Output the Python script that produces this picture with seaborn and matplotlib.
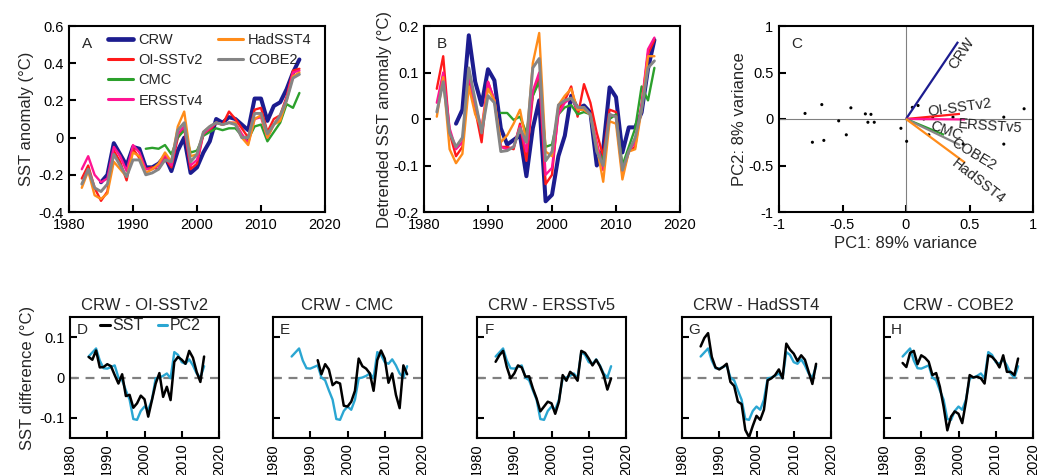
import numpy as np
import pandas as pd
import matplotlib
matplotlib.use("Agg")
import matplotlib.pyplot as plt
import seaborn as sns
from matplotlib.ticker import FuncFormatter, MultipleLocator
from matplotlib.lines import Line2D

# ---------------- data ----------------
years_full = list(range(1982, 2017))
years_crw = list(range(1985, 2017))
years_cmc = list(range(1992, 2017))

# Panel A: SST anomaly
crw_a = [-0.24, -0.20, -0.03, -0.09, -0.15, -0.05, -0.06, -0.16, -0.16, -0.14, -0.10, -0.18, -0.07, 0.00,
         -0.19, -0.16, -0.08, -0.02, 0.10, 0.08, 0.11, 0.10, 0.07, 0.04, 0.21, 0.21, 0.09, 0.17, 0.19, 0.26,
         0.35, 0.42]
oi_a = [-0.22, -0.15, -0.27, -0.34, -0.29, -0.07, -0.13, -0.23, -0.06, -0.11,
        -0.17, -0.16, -0.17, -0.11, -0.16, 0.00, 0.05, -0.17, -0.14, 0.02,
        0.04, 0.08, 0.07, 0.14, 0.10, 0.05, 0.00, 0.15, 0.16, 0.03,
        0.10, 0.12, 0.22, 0.36, 0.37]
cmc_a = [-0.06, -0.055, -0.06, -0.04, -0.09, 0.00, 0.04, -0.08, -0.07, 0.01,
         0.03, 0.05, 0.04, 0.05, 0.05, 0.01, -0.01, 0.06, 0.07, -0.02,
         0.03, 0.08, 0.18, 0.16, 0.24]
ers_a = [-0.17, -0.10, -0.20, -0.24, -0.22, -0.05, -0.10, -0.18, -0.04, -0.08,
         -0.17, -0.17, -0.15, -0.09, -0.15, 0.02, 0.06, -0.15, -0.12, 0.02,
         0.05, 0.08, 0.07, 0.08, 0.08, 0.02, -0.03, 0.10, 0.11, 0.00,
         0.07, 0.11, 0.21, 0.35, 0.36]
had_a = [-0.27, -0.18, -0.31, -0.33, -0.30, -0.13, -0.17, -0.21, -0.08, -0.10,
         -0.19, -0.17, -0.14, -0.08, -0.13, 0.06, 0.14, -0.10, -0.09, 0.03,
         0.06, 0.08, 0.07, 0.08, 0.08, 0.00, -0.04, 0.10, 0.12, 0.00,
         0.07, 0.09, 0.20, 0.33, 0.35]
cobe_a = [-0.25, -0.17, -0.27, -0.29, -0.25, -0.09, -0.15, -0.21, -0.12, -0.12,
          -0.20, -0.19, -0.17, -0.12, -0.13, 0.04, 0.08, -0.13, -0.09, 0.03,
          0.06, 0.08, 0.07, 0.08, 0.07, 0.00, 0.00, 0.13, 0.13, 0.02,
          0.07, 0.12, 0.20, 0.32, 0.34]

# Panel B: detrended SST anomaly
crw_b = [-0.01, 0.02, 0.18, 0.08, 0.03, 0.107, 0.083, -0.02, -0.055, -0.045, -0.035, -0.123, -0.02, 0.04,
         -0.177, -0.163, -0.08, -0.036, 0.05, 0.022, 0.029, 0.014, -0.10, -0.065, 0.068, 0.047, -0.072,
         -0.018, -0.018, 0.014, 0.108, 0.17]
oi_b = [0.065, 0.135, -0.03, -0.08, -0.06, 0.09, 0.02, -0.05, 0.08, 0.04,
        -0.06, -0.06, -0.065, -0.01, -0.09, 0.05, 0.09, -0.14, -0.12, 0.02,
        0.04, 0.07, 0.005, 0.075, 0.035, -0.03, -0.08, 0.02, 0.015, -0.11,
        -0.07, -0.06, 0.03, 0.14, 0.17]
cmc_b = [0.013, 0.013, -0.002, 0.005, -0.03, 0.05, 0.08, -0.06, -0.055, 0.01,
         0.025, 0.03, 0.01, 0.015, 0.01, -0.06, -0.09, 0.0, 0.01, -0.10,
         -0.06, -0.02, 0.07, 0.04, 0.11]
ers_b = [0.035, 0.10, -0.02, -0.065, -0.05, 0.095, 0.03, -0.02, 0.08, 0.04,
         -0.06, -0.065, -0.06, -0.015, -0.07, 0.06, 0.10, -0.12, -0.105, 0.01,
         0.035, 0.045, 0.02, 0.02, 0.01, -0.05, -0.11, 0.01, 0.005, -0.12,
         -0.07, -0.05, 0.03, 0.15, 0.175]
had_b = [0.005, 0.09, -0.065, -0.095, -0.075, 0.07, 0.01, -0.02, 0.065, 0.04,
         -0.05, -0.035, -0.01, 0.02, -0.05, 0.12, 0.185, -0.07, -0.08, 0.03,
         0.05, 0.065, 0.02, 0.02, 0.01, -0.06, -0.135, -0.005, -0.01, -0.13,
         -0.07, -0.065, 0.02, 0.135, 0.135]
cobe_b = [0.015, 0.08, -0.03, -0.06, -0.04, 0.11, 0.04, -0.03, 0.05, 0.035,
          -0.07, -0.068, -0.06, -0.02, -0.05, 0.11, 0.13, -0.09, -0.07, 0.03,
          0.04, 0.045, 0.025, 0.025, 0.01, -0.07, -0.10, 0.01, 0.005, -0.11,
          -0.07, -0.04, 0.02, 0.11, 0.125]

# Panel C: PCA biplot
pc_names = ["CRW", "OI-SSTv2", "ERSSTv5", "CMC", "COBE2", "HadSST4"]
load_pc1 = [0.41, 0.425, 0.465, 0.30, 0.425, 0.465]
load_pc2 = [0.83, 0.055, -0.005, -0.17, -0.28, -0.47]
score_pc1 = [-0.795, -0.737, -0.663, -0.647, -0.53, -0.47, -0.434, -0.32, -0.30, -0.276, -0.25, -0.04,
             0.005, 0.05, 0.095, 0.14, 0.18, 0.21, 0.37, 0.45, 0.77, 0.77, 0.93]
score_pc2 = [0.06, -0.25, 0.155, -0.23, -0.02, -0.17, 0.12, 0.055, -0.035, 0.05, -0.035, -0.10,
             -0.24, 0.125, 0.145, 0.0, -0.17, 0.02, 0.02, -0.27, 0.02, -0.27, 0.11]

# Panels D-H: CRW minus other products
diff_titles = ["CRW - OI-SSTv2", "CRW - CMC", "CRW - ERSSTv5", "CRW - HadSST4", "CRW - COBE2"]
diff_letters = ["D", "E", "F", "G", "H"]
pc2_diff = [0.052, 0.062, 0.072, 0.042, 0.023, 0.022, 0.026, 0.030, 0.000, -0.007, -0.032, -0.055,
            -0.103, -0.105, -0.083, -0.072, -0.080, -0.055, -0.002, 0.000, 0.004, 0.010, -0.002,
            0.063, 0.056, 0.038, 0.034, 0.045, 0.030, 0.010, 0.000, 0.028]
sst_d = [0.051, 0.044, 0.067, 0.025, 0.026, 0.033, 0.028, 0.006, -0.015, 0.008, -0.046, -0.043, -0.075,
         -0.064, -0.045, -0.054, -0.097, -0.056, -0.015, 0.011, -0.048, -0.023, -0.056, 0.039, 0.051,
         0.044, 0.034, 0.066, 0.049, 0.014, -0.011, 0.052]
sst_e = [0.043, 0.008, 0.033, 0.020, -0.019, -0.011, -0.015, -0.070, -0.072, -0.060, -0.033, 0.047,
         0.028, 0.022, 0.010, -0.033, 0.043, 0.067, 0.047, -0.013, 0.010, -0.043, -0.076, 0.030, 0.008]
sst_f = [0.039, 0.055, 0.066, 0.026, -0.002, 0.010, 0.030, 0.025, 0.002, 0.003, -0.027, -0.052, -0.084,
         -0.072, -0.060, -0.064, -0.090, -0.060, 0.006, -0.008, 0.014, 0.006, -0.008, 0.066, 0.061,
         0.047, 0.030, 0.044, 0.028, 0.006, -0.030, -0.002]
sst_g = [0.077, 0.098, 0.110, 0.051, 0.025, 0.020, 0.026, 0.034, -0.011, -0.021, -0.060, -0.066, -0.130,
         -0.148, -0.120, -0.095, -0.105, -0.080, -0.007, -0.002, 0.006, 0.020, -0.002, 0.084, 0.069,
         0.059, 0.041, 0.055, 0.044, 0.014, -0.016, 0.034]
sst_h = [0.036, 0.026, 0.061, 0.066, 0.033, 0.055, 0.049, 0.039, 0.006, 0.011, -0.023, -0.072, -0.131,
         -0.097, -0.084, -0.090, -0.113, -0.060, 0.006, 0.000, 0.002, -0.002, -0.015, 0.055, 0.051,
         0.041, 0.025, 0.055, 0.014, 0.014, 0.006, 0.047]

# ---------------- style ----------------
sns.set_style("ticks")
plt.rcParams['font.family'] = ['Liberation Sans', 'DejaVu Sans']
plt.rcParams['axes.unicode_minus'] = False

C_CRW = "#1c1c8f"
C_OI = "#ff1a1a"
C_CMC = "#2ca02c"
C_ERS = "#ff1493"
C_HAD = "#ff8c1a"
C_COBE = "#858585"
C_PC2 = "#2aa6d2"
pc_colors = [C_CRW, C_OI, C_ERS, C_CMC, C_COBE, C_HAD]

TICK_FS = 10.5
LABEL_FS = 12
LETTER_FS = 11

W, H = 1052, 475
fig = plt.figure(figsize=(W / 100, H / 100), dpi=100)


def rect(l, r, t, b):
    return [l / W, 1 - b / H, (r - l) / W, (b - t) / H]


def fmt(v, pos=None):
    if abs(v) < 1e-9:
        return "0"
    return f"{v:g}"


def style(ax, ls=TICK_FS):
    for sp in ax.spines.values():
        sp.set_visible(True)
        sp.set_linewidth(1.5)
        sp.set_color("black")
    ax.tick_params(direction="in", length=5, width=1.5, labelsize=ls, pad=4, colors="black")
    ax.yaxis.set_major_formatter(FuncFormatter(fmt))
    ax.xaxis.set_major_formatter(FuncFormatter(fmt))
    ax.grid(False)


def line(ax, x, y, color, lw, z=2):
    df = pd.DataFrame({"year": x, "val": y})
    sns.lineplot(data=df, x="year", y="val", ax=ax, color=color, lw=lw, zorder=z, legend=False)


# ---------------- Panel A ----------------
axA = fig.add_axes(rect(69, 325, 26, 212))
seriesA = [("CRW", years_crw, crw_a, C_CRW, 2.9), ("OI-SSTv2", years_full, oi_a, C_OI, 1.7),
           ("CMC", years_cmc, cmc_a, C_CMC, 1.7), ("ERSSTv4", years_full, ers_a, C_ERS, 1.7),
           ("HadSST4", years_full, had_a, C_HAD, 1.7), ("COBE2", years_full, cobe_a, C_COBE, 2.1)]
for i, (n, x, y, c, lw) in enumerate(seriesA):
    line(axA, x, y, c, lw, z=2 + i)
axA.set_xlim(1980, 2020)
axA.set_ylim(-0.4, 0.6)
axA.xaxis.set_major_locator(MultipleLocator(10))
axA.yaxis.set_major_locator(MultipleLocator(0.2))
style(axA)
axA.set_xlabel("")
axA.set_ylabel("SST anomaly (°C)", fontsize=LABEL_FS, labelpad=3)
axA.text(0.07, 0.905, "A", transform=axA.transAxes, fontsize=LETTER_FS, ha="center", va="center")
handles = [Line2D([], [], color=c, lw=(3.4 if n == "CRW" else 2.2)) for n, x, y, c, lw in seriesA]
labels = [s[0] for s in seriesA]
blank = Line2D([], [], color="none")
axA.legend(handles + [blank, blank], labels + ["", ""], ncol=2, loc="upper left",
           bbox_to_anchor=(0.135, 0.985), frameon=False, fontsize=10.5, handlelength=1.75,
           handletextpad=0.35, labelspacing=0.42, columnspacing=1.0, borderaxespad=0.1, borderpad=0.2)

# ---------------- Panel B ----------------
axB = fig.add_axes(rect(424, 680, 26, 212))
seriesB = [("CRW", years_crw, crw_b, C_CRW, 2.9), ("OI-SSTv2", years_full, oi_b, C_OI, 1.7),
           ("CMC", years_cmc, cmc_b, C_CMC, 1.7), ("ERSSTv4", years_full, ers_b, C_ERS, 1.7),
           ("HadSST4", years_full, had_b, C_HAD, 1.7), ("COBE2", years_full, cobe_b, C_COBE, 2.1)]
for i, (n, x, y, c, lw) in enumerate(seriesB):
    line(axB, x, y, c, lw, z=2 + i)
axB.set_xlim(1980, 2020)
axB.set_ylim(-0.2, 0.2)
axB.xaxis.set_major_locator(MultipleLocator(10))
axB.yaxis.set_major_locator(MultipleLocator(0.1))
style(axB)
axB.set_xlabel("")
axB.set_ylabel("Detrended SST anomaly (°C)", fontsize=LABEL_FS, labelpad=1)
axB.text(0.07, 0.905, "B", transform=axB.transAxes, fontsize=LETTER_FS, ha="center", va="center")

# ---------------- Panel C ----------------
axC = fig.add_axes(rect(779, 1033, 26, 212))
axC.axhline(0, color="#808080", lw=0.8, zorder=1)
axC.axvline(0, color="#808080", lw=0.8, zorder=1)
sns.scatterplot(x=score_pc1, y=score_pc2, ax=axC, color="black", s=5, edgecolor="none", zorder=3)
label_style = {"CRW": (0.44, 0.71, 56), "OI-SSTv2": (0.42, 0.125, 8), "ERSSTv5": (0.66, -0.075, -4),
               "CMC": (0.315, -0.13, -20), "COBE2": (0.53, -0.385, -31), "HadSST4": (0.57, -0.67, -38)}
for n, p1, p2, c in zip(pc_names, load_pc1, load_pc2, pc_colors):
    axC.plot([0, p1], [0, p2], color=c, lw=1.6, zorder=4, solid_capstyle="butt")
    lx, ly, rot = label_style[n]
    axC.text(lx, ly, n, rotation=rot, ha="center", va="center", fontsize=10.5, zorder=5,
             rotation_mode="anchor")
axC.set_xlim(-1, 1)
axC.set_ylim(-1, 1)
axC.xaxis.set_major_locator(MultipleLocator(0.5))
axC.yaxis.set_major_locator(MultipleLocator(0.5))
style(axC)
axC.set_xlabel("PC1: 89% variance", fontsize=LABEL_FS, labelpad=3)
axC.set_ylabel("PC2: 8% variance", fontsize=LABEL_FS, labelpad=1)
axC.text(0.07, 0.905, "C", transform=axC.transAxes, fontsize=LETTER_FS, ha="center", va="center")

# ---------------- Panels D-H ----------------
lefts = [70, 273, 477, 682, 884]
sst_sets = [(years_crw, sst_d), (years_cmc, sst_e), (years_crw, sst_f), (years_crw, sst_g), (years_crw, sst_h)]
for i, (l, title, letter, (sx, sy)) in enumerate(zip(lefts, diff_titles, diff_letters, sst_sets)):
    ax = fig.add_axes(rect(l, l + 149, 317, 438))
    ax.axhline(0, color="#808080", lw=1.6, ls=(0, (4, 3)), zorder=1)
    line(ax, years_crw, pc2_diff, C_PC2, 1.7, z=2)
    line(ax, sx, sy, "black", 1.8, z=3)
    ax.set_xlim(1980, 2020)
    ax.set_ylim(-0.15, 0.15)
    ax.xaxis.set_major_locator(MultipleLocator(10))
    ax.yaxis.set_major_locator(MultipleLocator(0.1))
    style(ax)
    ax.tick_params(axis="x", labelrotation=90)
    ax.set_xlabel("")
    ax.set_title(title, fontsize=LABEL_FS, pad=5)
    ax.text(0.08, 0.895, letter, transform=ax.transAxes, fontsize=LETTER_FS, ha="center", va="center")
    if i == 0:
        ax.set_ylabel("SST difference (°C)", fontsize=LABEL_FS, labelpad=3)
        hs = [Line2D([], [], color="black", lw=2.2), Line2D([], [], color=C_PC2, lw=2.2)]
        ax.legend(hs, ["SST", "PC2"], ncol=2, loc="upper left", bbox_to_anchor=(0.17, 1.03),
                  frameon=False, fontsize=11.5, handlelength=0.6, handletextpad=0.15,
                  columnspacing=0.9, borderaxespad=0.1, borderpad=0.2)
    else:
        ax.set_ylabel("")
        ax.set_yticklabels([])

fig.savefig("out.png", dpi=100)
